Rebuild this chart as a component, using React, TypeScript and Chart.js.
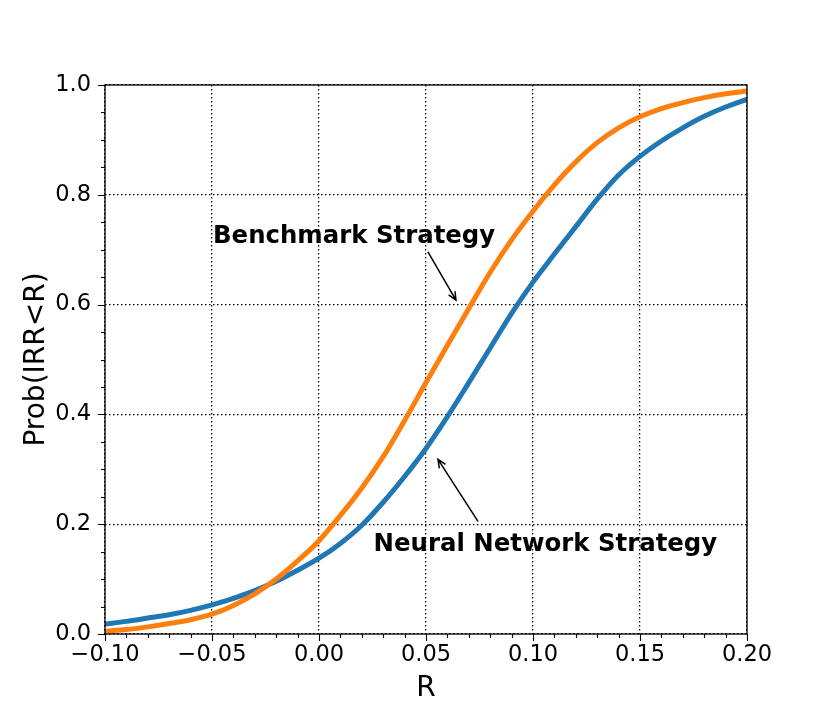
import React, { useEffect, useRef } from "react";
import { Chart, registerables } from "chart.js";

Chart.register(...registerables);

// ---- data ----
const rValues = [
  -0.1, -0.09, -0.08, -0.07, -0.06, -0.05, -0.04, -0.03, -0.02, -0.01, 0.0,
  0.01, 0.02, 0.03, 0.04, 0.05, 0.06, 0.07, 0.08, 0.09, 0.1,
  0.11, 0.12, 0.13, 0.14, 0.15, 0.16, 0.17, 0.18, 0.19, 0.2,
];
const benchmarkValues = [
  0.005, 0.008, 0.013, 0.019, 0.026, 0.036, 0.052, 0.073, 0.100, 0.133, 0.170,
  0.216, 0.266, 0.323, 0.389, 0.458, 0.526, 0.593, 0.659, 0.718, 0.770,
  0.818, 0.860, 0.895, 0.922, 0.942, 0.957, 0.968, 0.977, 0.984, 0.989,
];
const neuralValues = [
  0.018, 0.023, 0.029, 0.035, 0.043, 0.053, 0.065, 0.079, 0.096, 0.116, 0.138,
  0.165, 0.198, 0.240, 0.287, 0.338, 0.396, 0.458, 0.521, 0.584, 0.641,
  0.692, 0.742, 0.792, 0.836, 0.870, 0.898, 0.922, 0.943, 0.960, 0.974,
];
const xTickValues = [-0.1, -0.05, 0.0, 0.05, 0.1, 0.15, 0.2];
const yTickValues = [0.0, 0.2, 0.4, 0.6, 0.8, 1.0];
const xMinorStep = 0.01;
const yMinorStep = 0.05;
const xLabel = "R";
const yLabel = "Prob(IRR<R)";
const annotationTexts = ["Benchmark Strategy", "Neural Network Strategy"];
const annotationTextPos = [
  [0.0164, 0.712],
  [0.1058, 0.151],
];
const annotationArrowTail = [
  [0.0509, 0.696],
  [0.0743, 0.205],
];
const annotationArrowHead = [
  [0.064, 0.608],
  [0.0556, 0.318],
];

const FONT = "'DejaVu Sans', sans-serif";
const BLUE = "#1f77b4";
const ORANGE = "#ff7f0e";

const fmtX = (v: number) => {
  const s = Math.abs(v) < 1e-9 ? "0.00" : v.toFixed(2);
  return s.replace("-", "\u2212");
};
const fmtY = (v: number) => (Math.abs(v) < 1e-9 ? "0.0" : v.toFixed(1)).replace("-", "\u2212");

const framePlugin = {
  id: "frameTicksAnnot",
  afterDraw(chart: any) {
    const { ctx, chartArea: a, scales } = chart;
    const xs = scales.x;
    const ys = scales.y;
    ctx.save();
    // frame
    ctx.strokeStyle = "#000";
    ctx.lineWidth = 1.3;
    ctx.setLineDash([]);
    ctx.strokeRect(a.left, a.top, a.right - a.left, a.bottom - a.top);
    // ticks
    ctx.lineWidth = 1.1;
    ctx.beginPath();
    const xMinN = Math.round((xs.max - xs.min) / xMinorStep);
    for (let i = 0; i <= xMinN; i++) {
      const v = xs.min + i * xMinorStep;
      const px = Math.round(xs.getPixelForValue(v)) + 0.5;
      const major = xTickValues.some((t) => Math.abs(t - v) < 1e-9);
      ctx.moveTo(px, a.bottom);
      ctx.lineTo(px, a.bottom + (major ? 7 : 4));
    }
    const yMinN = Math.round((ys.max - ys.min) / yMinorStep);
    for (let i = 0; i <= yMinN; i++) {
      const v = ys.min + i * yMinorStep;
      const py = Math.round(ys.getPixelForValue(v)) + 0.5;
      const major = yTickValues.some((t) => Math.abs(t - v) < 1e-9);
      ctx.moveTo(a.left, py);
      ctx.lineTo(a.left - (major ? 7 : 4), py);
    }
    ctx.stroke();

    // axis titles
    ctx.fillStyle = "#000";
    ctx.font = `28px ${FONT}`;
    ctx.textAlign = "center";
    ctx.textBaseline = "alphabetic";
    ctx.fillText(xLabel, (a.left + a.right) / 2, a.bottom + 62);
    ctx.save();
    ctx.translate(44, (a.top + a.bottom) / 2);
    ctx.rotate(-Math.PI / 2);
    ctx.fillText(yLabel, 0, 0);
    ctx.restore();

    // annotations
    ctx.font = `bold 24.4px ${FONT}`;
    for (let i = 0; i < annotationTexts.length; i++) {
      const tx = xs.getPixelForValue(annotationTextPos[i][0]);
      const ty = ys.getPixelForValue(annotationTextPos[i][1]);
      ctx.fillText(annotationTexts[i], tx, ty);
      const x1 = xs.getPixelForValue(annotationArrowTail[i][0]);
      const y1 = ys.getPixelForValue(annotationArrowTail[i][1]);
      const x2 = xs.getPixelForValue(annotationArrowHead[i][0]);
      const y2 = ys.getPixelForValue(annotationArrowHead[i][1]);
      ctx.lineWidth = 1.5;
      ctx.beginPath();
      ctx.moveTo(x1, y1);
      ctx.lineTo(x2, y2);
      const ang = Math.atan2(y2 - y1, x2 - x1);
      const hl = 9;
      const ha = 0.42;
      ctx.moveTo(x2 - hl * Math.cos(ang - ha), y2 - hl * Math.sin(ang - ha));
      ctx.lineTo(x2, y2);
      ctx.lineTo(x2 - hl * Math.cos(ang + ha), y2 - hl * Math.sin(ang + ha));
      ctx.stroke();
    }
    ctx.restore();
  },
};

export default function App() {
  const ref = useRef<HTMLCanvasElement | null>(null);
  useEffect(() => {
    if (!ref.current) return;
    const chart = new Chart(ref.current, {
      type: "line",
      data: {
        datasets: [
          {
            label: "Benchmark Strategy",
            data: rValues.map((r, i) => ({ x: r, y: benchmarkValues[i] })),
            borderColor: ORANGE,
            borderWidth: 5,
            pointRadius: 0,
            cubicInterpolationMode: "monotone",
            order: 0,
          },
          {
            label: "Neural Network Strategy",
            data: rValues.map((r, i) => ({ x: r, y: neuralValues[i] })),
            borderColor: BLUE,
            borderWidth: 5,
            pointRadius: 0,
            cubicInterpolationMode: "monotone",
            order: 1,
          },
        ],
      },
      options: {
        animation: false,
        responsive: false,
        maintainAspectRatio: false,
        layout: { padding: { left: 0, right: 83, top: 85, bottom: 0 } },
        plugins: { legend: { display: false }, tooltip: { enabled: false } },
        scales: {
          x: {
            type: "linear",
            min: -0.1,
            max: 0.2,
            afterBuildTicks: (s: any) => {
              s.ticks = xTickValues.map((v) => ({ value: v }));
            },
            afterFit: (s: any) => {
              s.height = 78;
            },
            ticks: {
              callback: (v: any) => fmtX(Number(v)),
              font: { family: FONT, size: 22.5 },
              color: "#000",
              padding: 8,
              maxRotation: 0,
              autoSkip: false,
            },
            grid: { color: "#000", lineWidth: 1.25, drawTicks: false },
            border: { display: false, dash: [1.5, 2.5] },
          },
          y: {
            type: "linear",
            min: 0,
            max: 1,
            afterBuildTicks: (s: any) => {
              s.ticks = yTickValues.map((v) => ({ value: v }));
            },
            afterFit: (s: any) => {
              s.width = 105;
            },
            ticks: {
              callback: (v: any) => fmtY(Number(v)),
              font: { family: FONT, size: 22.5 },
              color: "#000",
              padding: 14,
              autoSkip: false,
            },
            grid: { color: "#000", lineWidth: 1.25, drawTicks: false },
            border: { display: false, dash: [1.5, 2.5] },
          },
        },
      },
      plugins: [framePlugin],
    } as any);
    return () => chart.destroy();
  }, []);
  return (
    <div style={{ position: "fixed", left: 0, top: 0, width: 830, height: 712, background: "#fff" }}>
      <canvas ref={ref} width={830} height={712} style={{ width: 830, height: 712 }} />
    </div>
  );
}
